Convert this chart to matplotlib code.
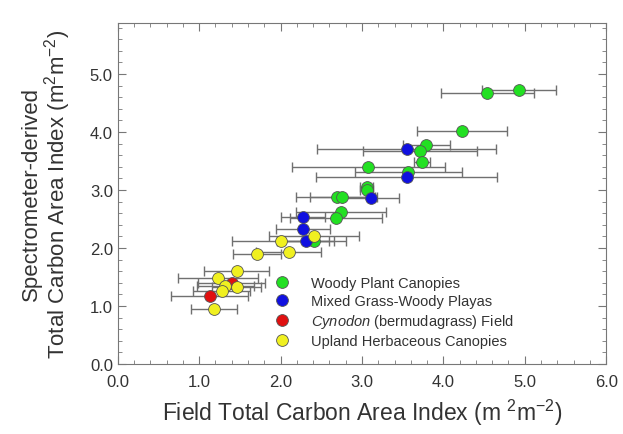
import numpy as np
import matplotlib
matplotlib.use("Agg")
import matplotlib.pyplot as plt
from matplotlib.lines import Line2D
from matplotlib.ticker import MultipleLocator, FormatStrFormatter

plt.rcParams['font.family'] = ['Liberation Sans', 'DejaVu Sans']
plt.rcParams['mathtext.fontset'] = 'custom'
plt.rcParams['mathtext.rm'] = 'Liberation Sans'
plt.rcParams['mathtext.it'] = 'Liberation Sans:italic'

# field (x), spectrometer (y), field error (xerr)
woody_x = [4.93, 4.54, 4.23, 3.79, 3.71, 3.74, 3.08, 3.57, 3.06, 3.06, 2.69, 2.76, 2.74, 2.68, 2.41]
woody_y = [4.72, 4.67, 4.02, 3.78, 3.67, 3.48, 3.40, 3.31, 3.05, 3.00, 2.88, 2.88, 2.62, 2.52, 2.12]
woody_e = [0.45, 0.57, 0.55, 0.29, 0.70, 0.10, 0.94, 0.66, 0.08, 0.08, 0.50, 0.40, 0.55, 0.57, 0.40]

playa_x = [3.55, 3.55, 3.11, 2.28, 2.28, 2.31]
playa_y = [3.70, 3.22, 2.87, 2.53, 2.33, 2.12]
playa_e = [1.10, 1.11, 0.35, 0.27, 0.33, 0.35]

cyn_x = [1.40, 1.13]
cyn_y = [1.40, 1.17]
cyn_e = [0.41, 0.47]

upland_x = [2.41, 2.00, 2.10, 1.71, 1.46, 1.23, 1.32, 1.46, 1.28, 1.18]
upland_y = [2.21, 2.12, 1.93, 1.90, 1.60, 1.48, 1.35, 1.33, 1.26, 0.95]
upland_e = [0.55, 0.60, 0.40, 0.30, 0.40, 0.49, 0.35, 0.30, 0.35, 0.28]

groups = [
    (woody_x, woody_y, woody_e, '#22e022', 'Woody Plant Canopies'),
    (playa_x, playa_y, playa_e, '#1010e0', 'Mixed Grass-Woody Playas'),
    (cyn_x, cyn_y, cyn_e, '#e01010', r'$\it{Cynodon}$ (bermudagrass) Field'),
    (upland_x, upland_y, upland_e, '#f0f020', 'Upland Herbaceous Canopies'),
]

txt = '#333333'
fig = plt.figure(figsize=(6.23, 4.35), dpi=100)
ax = fig.add_axes([0.189, 0.161, 0.784, 0.784])

handles = []
for x, y, e, c, lab in groups:
    ax.errorbar(x, y, xerr=e, fmt='none', ecolor='#707070', elinewidth=1.0,
                capsize=3.5, capthick=1.0, zorder=2)
    ax.plot(x, y, 'o', ms=8.5, mfc=c, mec='#555555', mew=0.6, zorder=3)
    handles.append(Line2D([], [], ls='none', marker='o', ms=8.5, mfc=c,
                          mec='#555555', mew=0.6, label=lab))

ax.set_xlim(0, 6.0)
ax.set_ylim(0, 5.88)
ax.xaxis.set_major_locator(MultipleLocator(1.0))
ax.xaxis.set_minor_locator(MultipleLocator(0.2))
ax.yaxis.set_major_locator(MultipleLocator(1.0))
ax.yaxis.set_minor_locator(MultipleLocator(0.2))
ax.xaxis.set_major_formatter(FormatStrFormatter('%.1f'))
ax.yaxis.set_major_formatter(FormatStrFormatter('%.1f'))
ax.tick_params(which='both', direction='in', top=True, right=True,
               colors='#777777', labelcolor=txt, labelsize=12)
ax.tick_params(which='major', length=6)
ax.tick_params(which='minor', length=3)
ax.tick_params(axis='x', pad=7)
for s in ax.spines.values():
    s.set_color('#777777')

ax.set_xlabel(r'Field Total Carbon Area Index (m $^{2}$m$^{-2}$)', fontsize=16.5, color=txt, labelpad=6)
ax.set_ylabel('Spectrometer-derived\n' + r'Total Carbon Area Index (m$^{2}$m$^{-2}$)',
              fontsize=16, color=txt, labelpad=12, linespacing=1.0)

leg = ax.legend(handles=handles, loc='upper left', bbox_to_anchor=(0.31, 0.274),
                frameon=False, fontsize=10.5, labelspacing=0.26,
                handletextpad=1.5, handlelength=1.0, borderaxespad=0)
for t in leg.get_texts():
    t.set_color(txt)

fig.savefig('out.png', dpi=100)
